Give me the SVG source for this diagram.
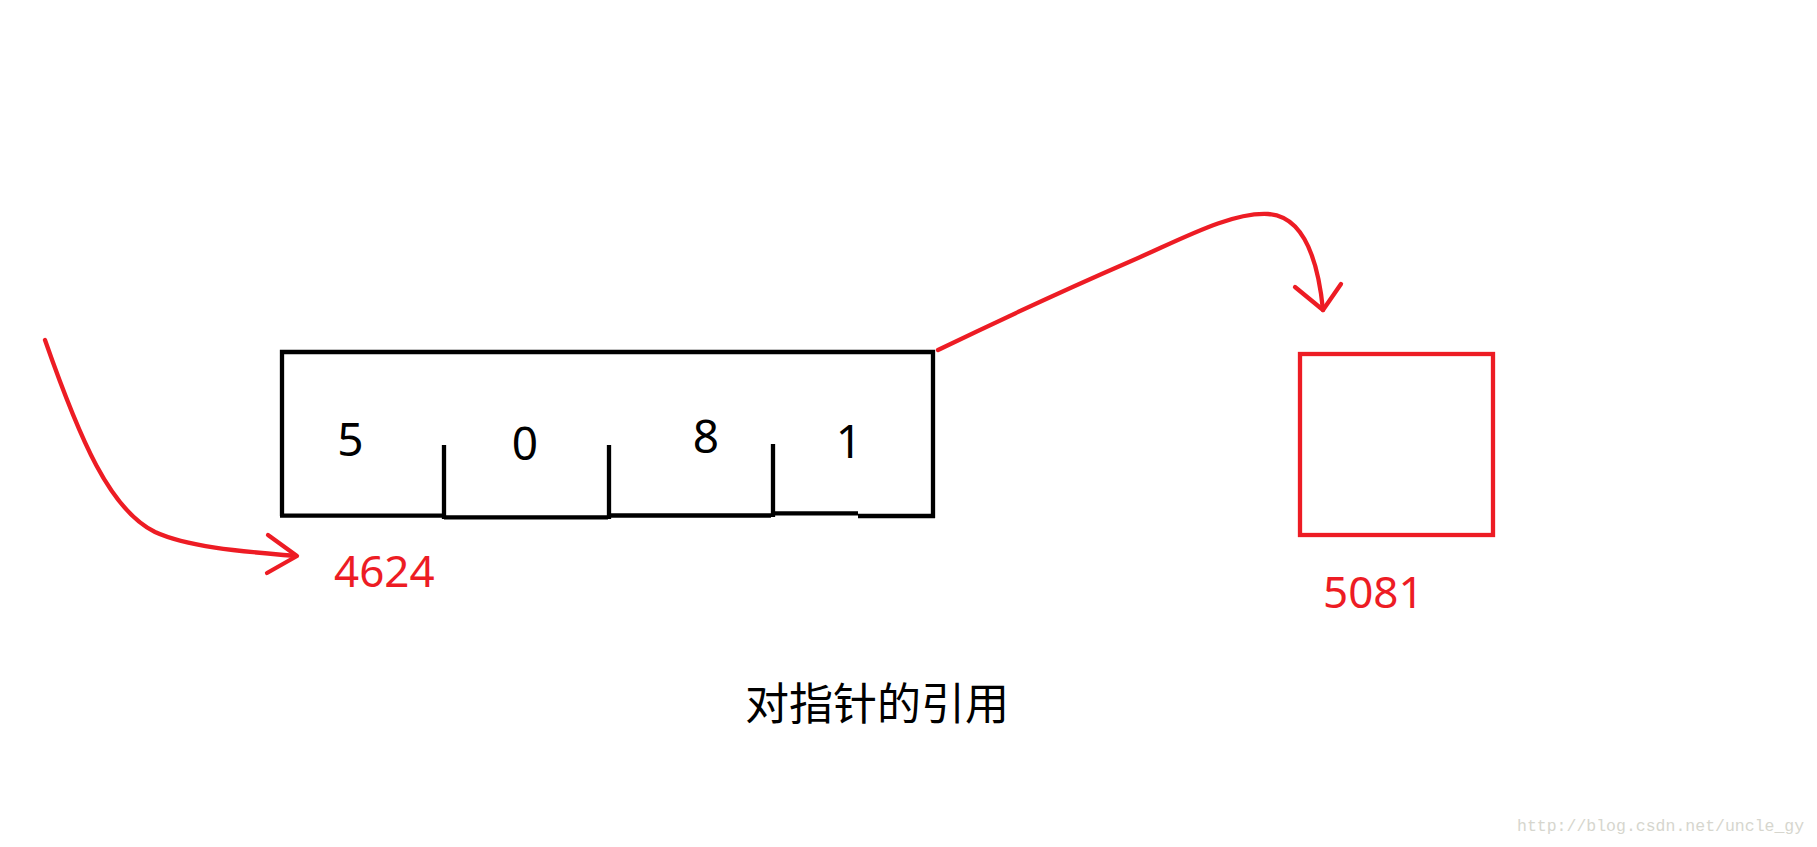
<svg xmlns="http://www.w3.org/2000/svg" width="1817" height="847" viewBox="0 0 1817 847">
<style>
.blk{fill:none;stroke:#000;stroke-width:4.3;stroke-linecap:butt}
.red{fill:none;stroke:#ed1c24;stroke-width:4.3;stroke-linecap:round;stroke-linejoin:round}
.dig{font-family:"Noto Sans","Liberation Sans",sans-serif;font-size:46px;fill:#000;text-anchor:middle}
.lbl{font-family:"Noto Sans","Liberation Sans",sans-serif;font-size:44px;fill:#ed1c24}
.cap{font-family:"Noto Sans CJK SC","Noto Sans",sans-serif;font-size:44px;fill:#000}
.wm{font-family:"Liberation Mono",monospace;font-size:16.5px;fill:#d6d6ce}
</style>
<rect width="1817" height="847" fill="#fff"/>
<g id="connectors">
  <path class="red" d="M45,340 C80,440 110,510 155,532 C190,548 250,552 295,556"/>
  <polyline class="red" points="268,535 297,556 267,573"/>
  <path class="red" d="M938,350 C1000,320 1060,292 1129,262 C1180,240 1230,212 1268,214 C1300,216 1317,250 1323,310"/>
  <polyline class="red" points="1295,287 1323,310 1341,284"/>
</g>
<g id="pointer-box">
  <path class="blk" d="M282,516 L282,352 L933,352 L933,518"/>
  <path class="blk" d="M280,515.7 L443,515.7 M444,517.3 L608,517.3 M609,515.5 L771,515.5 M773,513.3 L858,513.3 M858,516 L935,516"/>
  <path class="blk" d="M444,445 L444,519 M609,445 L609,519 M773,444 L773,517"/>
  <text class="dig" x="350.5" y="456">5</text>
  <text class="dig" x="525" y="460">0</text>
  <text class="dig" x="706" y="453">8</text>
  <text class="dig" x="849" y="458">1</text>
</g>
<g id="label-4624">
  <text class="lbl" x="334" y="587">4624</text>
</g>
<g id="target-box">
  <rect x="1300" y="354" width="193" height="181" fill="none" stroke="#ed1c24" stroke-width="4.3"/>
</g>
<g id="label-5081">
  <text class="lbl" x="1323" y="608">5081</text>
</g>
<g id="caption">
  <text class="cap" x="745" y="720">对指针的引用</text>
</g>
<text class="wm" x="1517" y="831">http://blog.csdn.net/uncle_gy</text>
</svg>
